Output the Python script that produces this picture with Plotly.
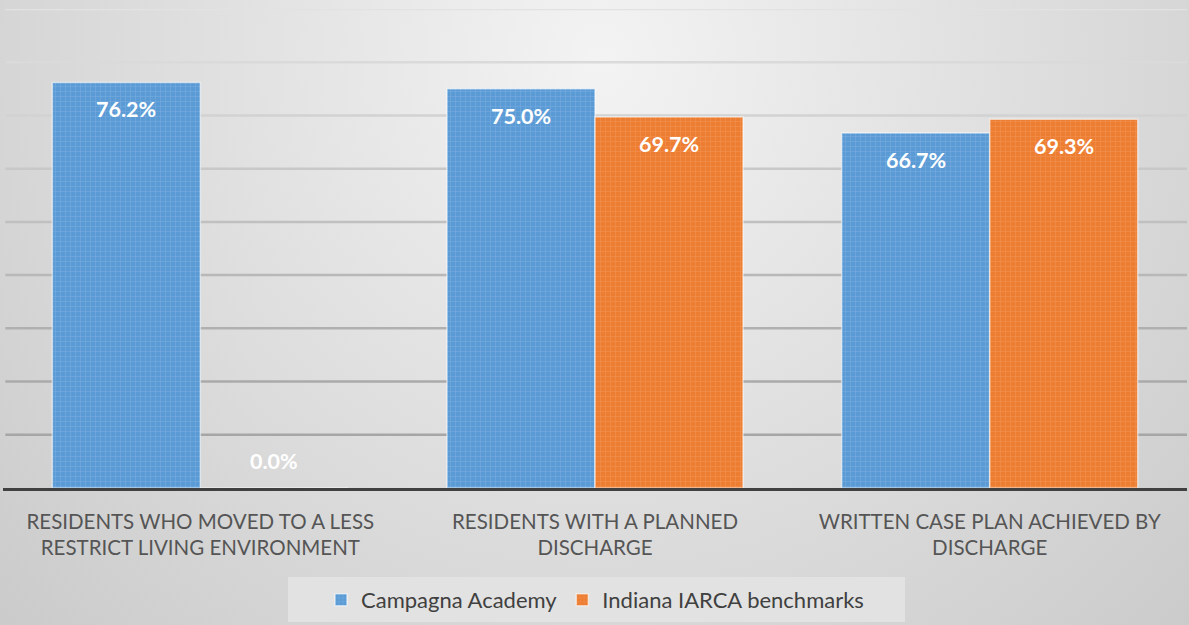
import base64
import plotly.graph_objects as go

categories = [
    "RESIDENTS WHO MOVED TO A LESS<br>RESTRICT LIVING ENVIRONMENT",
    "RESIDENTS WITH A PLANNED<br>DISCHARGE",
    "WRITTEN CASE PLAN ACHIEVED BY<br>DISCHARGE",
]
campagna = [76.2, 75.0, 66.7]
indiana = [0.0, 69.7, 69.3]
series_names = ["Campagna Academy", "Indiana IARCA benchmarks"]
grid_vals = [10, 20, 30, 40, 50, 60, 70, 80, 90]
grid_colors = ["#a6a6a6", "#aaaaaa", "#b0b0b0", "#b8b8b8", "#c0c0c0",
               "#c8c8c8", "#d2d2d2", "#dadada", "#e2e2e2"]

W, H = 1189, 625
ML, MR, MT, MB = 3, 2, 9, 137
PW, PH = W - ML - MR, H - MT - MB

FONT = "Lato"
BLUE, ORANGE = "#5b9bd5", "#ed7d31"

svg = f"""<svg xmlns='http://www.w3.org/2000/svg' width='{W}' height='{H}'>
<defs><radialGradient id='g' gradientUnits='userSpaceOnUse' cx='600' cy='60' r='1000'>
<stop offset='0' stop-color='#f3f3f3'/><stop offset='1' stop-color='#c2c2c2'/></radialGradient></defs>
<rect width='{W}' height='{H}' fill='url(#g)'/></svg>"""
bg_src = "data:image/svg+xml;base64," + base64.b64encode(svg.encode()).decode()

fig = go.Figure()
fig.add_trace(go.Bar(
    x=categories, y=campagna, name=series_names[0],
    marker=dict(color=BLUE, line=dict(color="rgba(255,255,255,0.55)", width=1.5),
                pattern=dict(shape="+", size=5, solidity=0.2, fgcolor="#a3c8ec", fgopacity=0.4)),
))
fig.add_trace(go.Bar(
    x=categories, y=indiana, name=series_names[1],
    marker=dict(color=ORANGE, line=dict(color="rgba(255,255,255,0.55)", width=1.5),
                pattern=dict(shape="+", size=5, solidity=0.2, fgcolor="#f6b185", fgopacity=0.4)),
))

annotations = []
for s, vals in enumerate([campagna, indiana]):
    off = -0.1875 if s == 0 else 0.1875
    for i, v in enumerate(vals):
        annotations.append(dict(
            x=i + off, y=v, xref="x", yref="y", text=f"<b>{v:.1f}%</b>",
            showarrow=False, yanchor="middle", yshift=(-27 if v > 5 else 27),
            font=dict(family=FONT, size=21.5, color="white"),
        ))

shapes = [dict(type="rect", xref="paper", yref="paper",
               x0=(288 - ML) / PW, x1=(905 - ML) / PW,
               y0=-(622 - (MT + PH)) / PH, y1=-(577 - (MT + PH)) / PH,
               fillcolor="#e2e2e2", line=dict(width=0), layer="below")]
for v, c in zip(grid_vals, grid_colors):
    shapes.append(dict(type="line", xref="paper", yref="y", x0=0.002, x1=1, y0=v, y1=v,
                       line=dict(color=c, width=2.5), layer="below"))

fig.update_layout(
    width=W, height=H,
    margin=dict(l=ML, r=MR, t=MT, b=MB),
    paper_bgcolor="#d6d6d6", plot_bgcolor="rgba(0,0,0,0)",
    barmode="group", bargap=0.25, bargroupgap=0,
    images=[dict(source=bg_src, xref="paper", yref="paper",
                 x=-ML / PW, y=1 + MT / PH, sizex=W / PW, sizey=H / PH,
                 xanchor="left", yanchor="top", sizing="stretch", layer="below")],
    shapes=shapes,
    annotations=annotations,
    showlegend=True,
    legend=dict(orientation="h", x=0.5, xanchor="center", y=-(600 - (MT + PH)) / PH,
                yanchor="middle", bgcolor="rgba(0,0,0,0)",
                font=dict(family=FONT, size=22, color="#404040"), itemwidth=30),
    xaxis=dict(showline=True, linecolor="#404040", linewidth=3, ticks="",
               tickfont=dict(family=FONT, size=20.5, color="#555555"),
               ticklabelstandoff=13, showgrid=False),
    yaxis=dict(range=[0, 90], showgrid=False, showticklabels=False, zeroline=False,
               fixedrange=True),
    font=dict(family=FONT),
)

fig.write_html("out.html", config={"displayModeBar": False},
               post_script="document.body.style.margin='0';document.body.style.padding='0';")
